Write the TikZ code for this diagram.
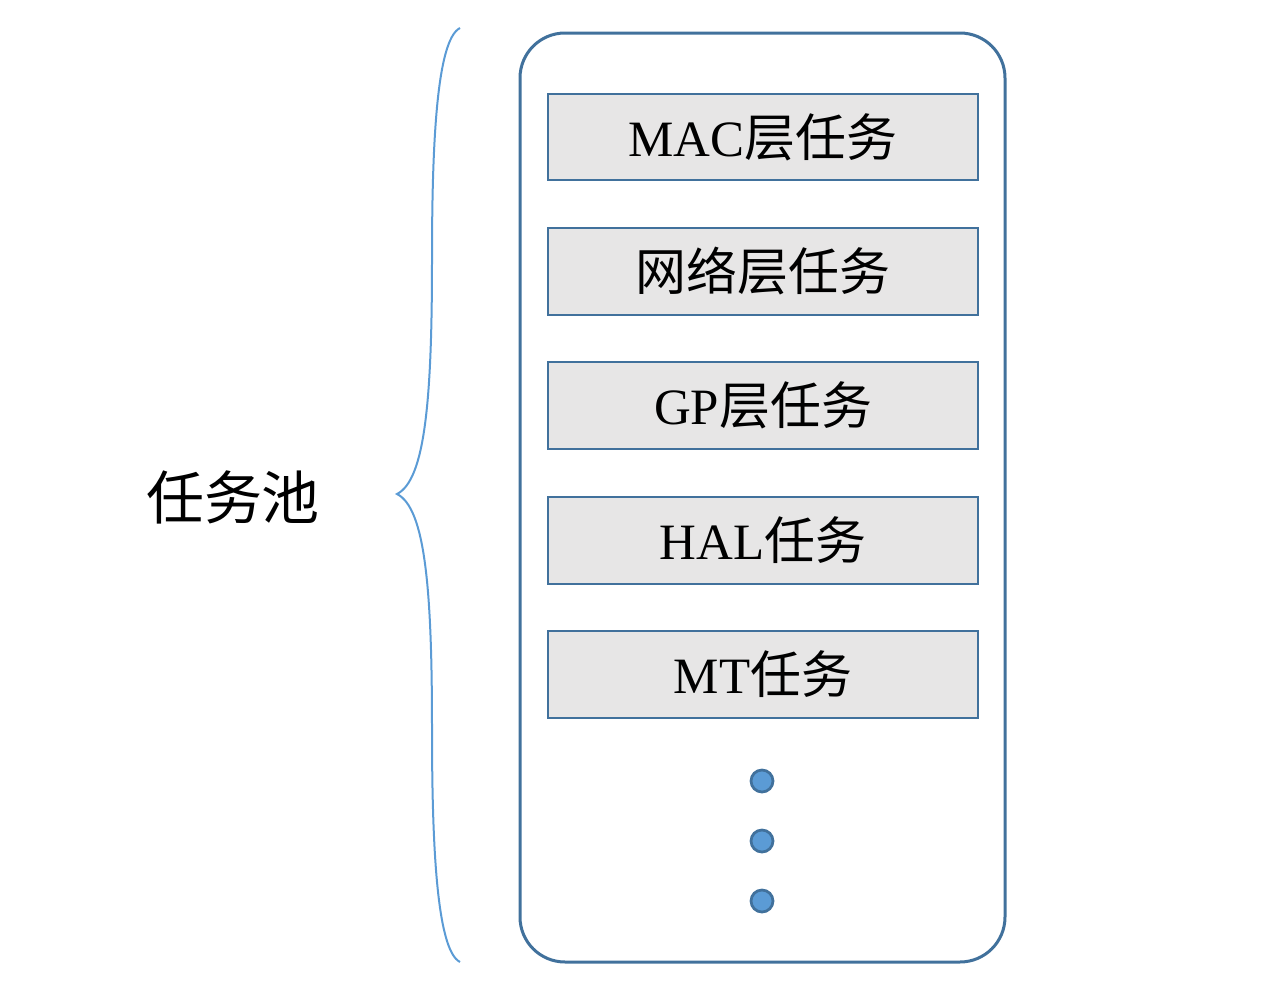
\documentclass[tikz,border=0pt]{standalone}
\usepackage{fontspec}
\setmainfont{Liberation Serif}
\newfontfamily\cjk{Noto Sans CJK SC}
\usepackage{tikz}
\usetikzlibrary{calc}
\definecolor{frameblue}{HTML}{41719C}
\definecolor{dotblue}{HTML}{5B9BD5}
\definecolor{boxgray}{HTML}{E7E6E6}
\newcommand{\zh}[1]{{\cjk #1}}
\tikzset{
  pool/.style={
    draw=frameblue,
    line width=0.6mm,
    rounded corners=9mm},
  taskbox/.style={
    draw=frameblue,
    fill=boxgray,
    line width=0.4mm,
    minimum width=8.6cm,
    minimum height=1.74cm,
    font=\fontsize{29}{34}\selectfont},
  morebox/.style={
    circle,
    draw=frameblue,
    fill=dotblue,
    line width=0.55mm,
    minimum size=0.44cm,
    inner sep=0pt},
  brace/.style={
    draw=dotblue,
    line width=0.4mm}
  }
\begin{document}
\begin{tikzpicture}[x=0.02cm, y=-0.02cm]
  \useasboundingbox (0,0) rectangle (1286,998);
  \draw [pool] (520,33) rectangle (1005,962);
  \node [taskbox] (mac) at (763,137) {MAC\zh{层任务}};
  \node [taskbox] (net) at (763,271.5) {\zh{网络层任务}};
  \node [taskbox] (gp) at (763,405.5) {GP\zh{层任务}};
  \node [taskbox] (hal) at (763,540.5) {HAL\zh{任务}};
  \node [taskbox] (mt) at (763,674.5) {MT\zh{任务}};
  \node [morebox] (d1) at (762,781) {};
  \node [morebox] (d2) at (762,841) {};
  \node [morebox] (d3) at (762,901) {};
  \coordinate (top) at (460,28);
  \coordinate (tip) at (397,494);
  \coordinate (bot) at (460,962);
  \draw [brace] (top) .. controls (436,40) and (432,150) .. (432,260)
    .. controls (432,400) and (425,480) .. (tip)
    .. controls (425,508) and (432,588) .. (432,728)
    .. controls (432,838) and (436,950) .. (bot);
  \node (pool) at (233,497) {\fontsize{33}{38}\selectfont\zh{任务池}};
\end{tikzpicture}
\end{document}
